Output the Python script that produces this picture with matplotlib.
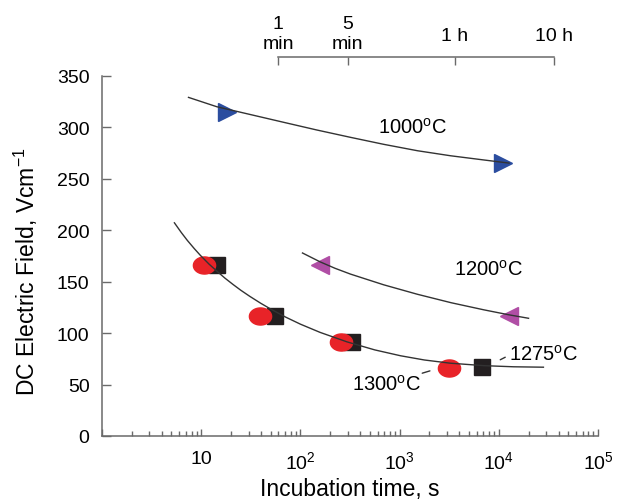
import matplotlib.pyplot as plt
import numpy as np
from matplotlib.path import Path
from matplotlib.ticker import LogLocator, NullFormatter, NullLocator

plt.rcParams['font.family'] = ['Liberation Sans', 'DejaVu Sans']
plt.rcParams['mathtext.fontset'] = 'custom'
plt.rcParams['mathtext.rm'] = 'Liberation Sans'
plt.rcParams['mathtext.it'] = 'Liberation Sans:italic'
plt.rcParams['mathtext.bf'] = 'Liberation Sans:bold'

# measured points: incubation time (s) vs DC field (V/cm)
t_1000 = [18.3, 11000]
e_1000 = [315, 265]
t_1200 = [159, 12600]
e_1200 = [166, 116.5]
t_1275 = [14.5, 56, 335, 6700]
e_1275 = [166, 116.5, 91, 67]
t_1300 = [10.7, 39.5, 254, 3130]
e_1300 = [166, 116.5, 91, 66]

# trend curves
fit_1000_t = [7.45, 14.4, 22.9, 67.8, 147, 320, 693, 1514, 3273, 7112, 12700]
fit_1000_e = [328.8, 319.7, 315.2, 304.6, 297.1, 290.0, 283.2, 277.0, 272.1, 268, 265]
fit_1200_t = [105, 158, 224, 320, 692, 1514, 3311, 7079, 12590, 19950]
fit_1200_e = [177.7, 169.1, 162.8, 157.2, 146.8, 137.6, 129.4, 122.5, 117.7, 114.3]
fit_low_t = [5.37, 6.31, 7.24, 8.51, 9.77, 12.0, 14.5, 17.4, 20.9, 25.1, 30.9,
             39.8, 50.1, 70.8, 100, 158, 295, 562, 1023, 1778, 3236, 7079,
             14125, 28184]
fit_low_e = [207, 197.5, 190, 182, 175.6, 166.9, 159.8, 153.2, 147.2, 141.5, 135.6,
             128.9, 123.3, 115.5, 108.6, 100.6, 91.4, 83.6, 77.9, 73.8, 70.7, 68.3,
             67.2, 66.8]

# top scale: minutes / hours in seconds
top_ticks = [60, 300, 3600, 36000]
top_labels = ['1\nmin', '5\nmin', '1 h', '10 h']

x_ticks = [1, 10, 100, 1000, 10000, 100000]
x_labels = ['', '10', '$10^2$', '$10^3$', '$10^4$', '$10^5$']
y_ticks = [0, 50, 100, 150, 200, 250, 300, 350]

axis_col = '#6a6a6a'
line_col = '#333333'

fig = plt.figure(figsize=(6.2, 5.02), dpi=100)
ax = fig.add_axes([0.1645, 0.1295, 0.8, 0.718])

ax.plot(fit_1000_t, fit_1000_e, color=line_col, lw=1.0, zorder=5)
ax.plot(fit_1200_t, fit_1200_e, color=line_col, lw=1.0, zorder=5)
ax.plot(fit_low_t, fit_low_e, color=line_col, lw=1.0, zorder=5)

# flattened ellipse marker for the 1300 C points
th = np.linspace(0, 2 * np.pi, 60)
ellipse = Path(np.column_stack([1.3 * np.cos(th), np.sin(th)]), closed=True)

ax.plot(t_1000, e_1000, ls='none', marker='>', ms=13.5, color='#2b4d9f', zorder=3)
ax.plot(t_1200, e_1200, ls='none', marker='<', ms=13.5, color='#b04ea5', zorder=3)
ax.plot(t_1275, e_1275, ls='none', marker='s', ms=11.5, color='#231f20', zorder=3)
ax.plot(t_1300, e_1300, ls='none', marker=ellipse, ms=16, color='#e82328', zorder=4)

ax.set_xscale('log')
ax.set_xlim(1, 1e5)
ax.set_ylim(0, 350)
ax.set_xticks(x_ticks, x_labels)
ax.xaxis.set_minor_locator(LogLocator(base=10, subs=np.arange(2, 10)))
ax.xaxis.set_minor_formatter(NullFormatter())
ax.set_yticks(y_ticks)

for s in ['top', 'right']:
    ax.spines[s].set_visible(False)
for s in ['left', 'bottom']:
    ax.spines[s].set_color(axis_col)
    ax.spines[s].set_linewidth(1.1)

ax.tick_params(axis='x', which='major', direction='in', length=5, width=1,
               color=axis_col, labelsize=14, pad=10)
ax.tick_params(axis='x', which='minor', direction='in', length=3.5, width=1,
               color=axis_col)
ax.tick_params(axis='y', direction='in', length=6.5, width=1,
               color=axis_col, labelsize=14, pad=9)

ax.set_xlabel('Incubation time, s', fontsize=16.5, labelpad=4)
ax.set_ylabel('DC Electric Field, Vcm$^{-1}$', fontsize=16.5)
ax.yaxis.set_label_coords(-0.125, 0.458)

# top bracket scale
top_y = 1.0505
sec = ax.secondary_xaxis(top_y)
sec.set_xticks(top_ticks, ['', '', '', ''])
sec.xaxis.set_minor_locator(NullLocator())
sec.tick_params(direction='in', length=6, width=1, color=axis_col)
for s in sec.spines.values():
    s.set_color(axis_col)
    s.set_linewidth(1.1)
    s.set_bounds(top_ticks[0], top_ticks[-1])
for t, lab in zip(top_ticks, top_labels):
    off = 6.8 if 'min' in lab else 12.7
    ax.annotate(lab, xy=(t, top_y), xycoords=('data', 'axes fraction'),
                xytext=(0, off), textcoords='offset points',
                ha='center', va='baseline', fontsize=14, linespacing=1.2,
                multialignment='center')

# curve labels
ax.text(1350, 300, '1000$^{\\mathrm{o}}$C', fontsize=14.5, ha='center', va='center')
ax.text(7940, 162, '1200$^{\\mathrm{o}}$C', fontsize=14.5, ha='center', va='center')
ax.text(28500, 79.6, '1275$^{\\mathrm{o}}$C', fontsize=14.5, ha='center', va='center')
ax.text(740, 50.5, '1300$^{\\mathrm{o}}$C', fontsize=14.5, ha='center', va='center')
ax.annotate('', xy=(12300, 77.7), xytext=(9770, 72.8),
            arrowprops=dict(arrowstyle='-', color=line_col, lw=1))
ax.annotate('', xy=(2150, 64), xytext=(1590, 60.2),
            arrowprops=dict(arrowstyle='-', color=line_col, lw=1))

fig.savefig('out.png', dpi=100)
